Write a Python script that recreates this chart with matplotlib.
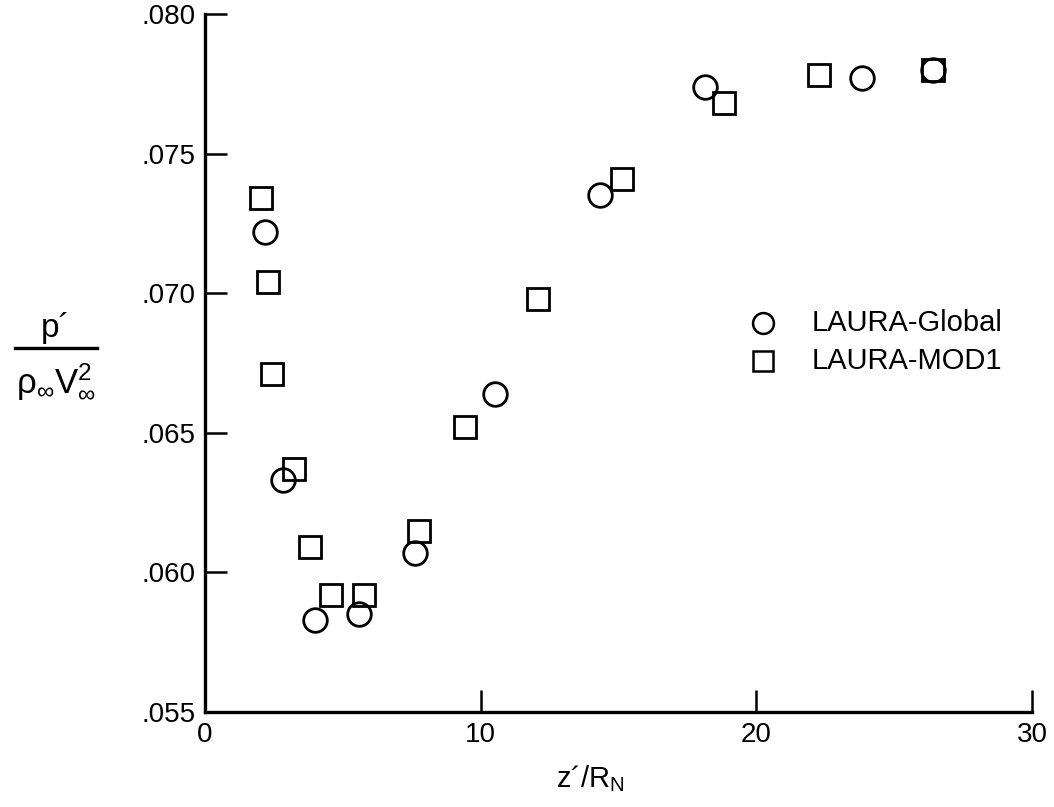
import matplotlib
matplotlib.use("Agg")
import matplotlib.pyplot as plt
from matplotlib.lines import Line2D

plt.rcParams['font.family'] = ['Liberation Sans', 'DejaVu Sans']
plt.rcParams['mathtext.fontset'] = 'custom'
plt.rcParams['mathtext.rm'] = 'Liberation Sans'
plt.rcParams['mathtext.it'] = 'Liberation Sans'

# data
glob_x = [2.18, 2.83, 3.99, 5.59, 7.62, 10.52, 14.33, 18.14, 23.83, 26.41]
glob_y = [0.0722, 0.0633, 0.0583, 0.0585, 0.0607, 0.0664, 0.0735, 0.0774, 0.0777, 0.0780]

mod1_x = [2.03, 2.29, 2.43, 3.23, 3.81, 4.57, 5.77, 7.76, 9.43, 12.08, 15.13, 18.82, 22.27, 26.41]
mod1_y = [0.0734, 0.0704, 0.0671, 0.0637, 0.0609, 0.0592, 0.0592, 0.0615, 0.0652, 0.0698,
          0.0741, 0.0768, 0.0778, 0.0780]

xticks = [0, 10, 20, 30]
yticks = [0.055, 0.060, 0.065, 0.070, 0.075, 0.080]
ytick_labels = ['.055', '.060', '.065', '.070', '.075', '.080']

fig = plt.figure(figsize=(10.54, 8.07), dpi=100)
ax = fig.add_axes([0.1945, 0.1177, 0.7846, 0.865])

ax.plot(glob_x, glob_y, linestyle='none', marker='o', markersize=17,
        markerfacecolor='none', markeredgecolor='black', markeredgewidth=2.0)
ax.plot(mod1_x, mod1_y, linestyle='none', marker='s', markersize=16,
        markerfacecolor='none', markeredgecolor='black', markeredgewidth=2.0)

ax.set_xlim(0, 30)
ax.set_ylim(0.055, 0.080)
ax.set_xticks(xticks)
ax.set_xticklabels([str(t) for t in xticks])
ax.set_yticks(yticks)
ax.set_yticklabels(ytick_labels)

ax.spines['top'].set_visible(False)
ax.spines['right'].set_visible(False)
ax.spines['left'].set_linewidth(2.4)
ax.spines['bottom'].set_linewidth(2.4)
ax.tick_params(direction='in', length=16, width=1.8, labelsize=20, pad=7)
ax.patch.set_alpha(0)

# legend drawn by hand (no frame)
leg_x = 0.7239
leg_y = [0.600, 0.553]
fig.add_artist(Line2D([leg_x], [leg_y[0]], marker='o', markersize=15, markerfacecolor='none',
                      markeredgecolor='black', markeredgewidth=1.8, transform=fig.transFigure))
fig.add_artist(Line2D([leg_x], [leg_y[1]], marker='s', markersize=14, markerfacecolor='none',
                      markeredgecolor='black', markeredgewidth=1.8, transform=fig.transFigure))
fig.text(0.770, leg_y[0], 'LAURA-Global', fontsize=21, va='center', ha='left')
fig.text(0.770, leg_y[1], 'LAURA-MOD1', fontsize=21, va='center', ha='left')

# x label
fig.text(0.56, 0.035, 'z´/R$_{\\mathregular{N}}$', fontsize=21, ha='center', va='center')

# y label as a stacked fraction
fig.text(0.053, 0.593, 'p´', fontsize=24, ha='center', va='center')
fig.add_artist(Line2D([0.014, 0.092], [0.569, 0.569], color='black', linewidth=2.4,
                      transform=fig.transFigure))
fig.text(0.053, 0.527, '$\\mathregular{ρ_{∞}V_{∞}^{2}}$', fontsize=25, ha='center', va='center')

fig.savefig('out.png', dpi=100)
